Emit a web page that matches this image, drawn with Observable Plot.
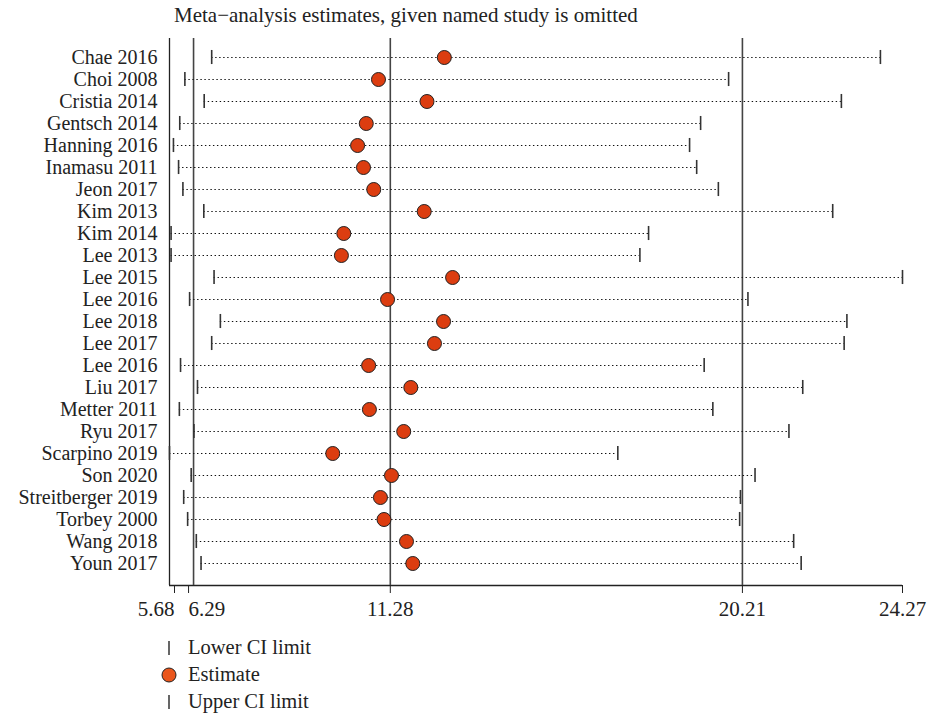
<!DOCTYPE html>
<html>
<head>
<meta charset="utf-8">
<script src="https://cdn.jsdelivr.net/npm/d3@7"></script>
<script src="https://cdn.jsdelivr.net/npm/@observablehq/plot@0.6"></script>
<style>
  html, body { margin: 0; padding: 0; background: #fff; }
  body { width: 929px; height: 716px; position: relative; font-family: "Liberation Serif", serif; color: #222; }
  #title { position: absolute; left: 174px; top: 3px; font-size: 21px; white-space: nowrap; }
  #chart { position: absolute; left: 0; top: 36px; }
  #legend { position: absolute; left: 160px; top: 634px; font-size: 20.5px; }
  .item { display: flex; align-items: center; height: 27px; }
  .item svg { width: 20px; height: 20px; margin-right: 8px; }
</style>
</head>
<body>
<div id="title">Meta−analysis estimates, given named study is omitted</div>
<div id="chart"></div>
<div id="legend">
  <div class="item"><svg viewBox="0 0 20 20"><line x1="9" x2="9" y1="3" y2="17" stroke="#333" stroke-width="1.5"/></svg><span>Lower CI limit</span></div>
  <div class="item"><svg viewBox="0 0 20 20"><circle cx="9" cy="10" r="7" fill="#ea561c" stroke="#222" stroke-width="1"/></svg><span>Estimate</span></div>
  <div class="item"><svg viewBox="0 0 20 20"><line x1="9" x2="9" y1="3" y2="17" stroke="#333" stroke-width="1.5"/></svg><span>Upper CI limit</span></div>
</div>
<script>
const studies = ["Chae 2016","Choi 2008","Cristia 2014","Gentsch 2014","Hanning 2016","Inamasu 2011","Jeon 2017","Kim 2013","Kim 2014","Lee 2013","Lee 2015","Lee 2016","Lee 2018","Lee 2017","Lee 2016","Liu 2017","Metter 2011","Ryu 2017","Scarpino 2019","Son 2020","Streitberger 2019","Torbey 2000","Wang 2018","Youn 2017"];
const lower    = [6.75, 6.07, 6.56, 5.94, 5.78, 5.91, 6.02, 6.55, 5.72, 5.72, 6.81, 6.19, 6.97, 6.75, 5.96, 6.39, 5.93, 6.30, 5.68, 6.23, 6.04, 6.14, 6.36, 6.48];
const estimate = [12.65, 10.98, 12.21, 10.67, 10.45, 10.60, 10.86, 12.14, 10.10, 10.04, 12.86, 11.21, 12.63, 12.40, 10.73, 11.80, 10.75, 11.62, 9.82, 11.31, 11.03, 11.12, 11.69, 11.85];
const upper    = [23.71, 19.86, 22.72, 19.15, 18.87, 19.05, 19.60, 22.50, 17.83, 17.61, 24.27, 20.35, 22.86, 22.79, 19.24, 21.74, 19.46, 21.39, 17.05, 20.53, 20.16, 20.14, 21.51, 21.70];
const refLines = [6.29, 11.28, 20.21];
const xMin = 5.68, xMax = 24.27;

const rows = studies.map((s, i) => ({i, study: s, lo: lower[i], est: estimate[i], hi: upper[i]}));

const chart = Plot.plot({
  width: 929,
  height: 590,
  marginLeft: 169,
  marginRight: 27,
  marginTop: 2,
  marginBottom: 41,
  style: {fontFamily: "Liberation Serif, serif", fontSize: "20px", color: "#222", background: "white"},
  x: {domain: [xMin, xMax], label: null},
  y: {domain: [-0.864, 24], reverse: true, label: null},
  marks: [
    Plot.ruleX([xMin], {stroke: "#222", strokeWidth: 1.3}),
    Plot.ruleY([24], {x1: xMin, x2: xMax, stroke: "#222", strokeWidth: 1.3}),
    Plot.ruleX(refLines, {stroke: "#444", strokeWidth: 1.6}),
    Plot.ruleY(rows, {y: "i", x1: "lo", x2: "hi", stroke: "#111", strokeWidth: 1.1, strokeDasharray: "1.4,2.6"}),
    Plot.ruleX(rows, {x: "lo", y1: d => d.i - 0.32, y2: d => d.i + 0.32, stroke: "#333", strokeWidth: 1.6}),
    Plot.ruleX(rows, {x: "hi", y1: d => d.i - 0.32, y2: d => d.i + 0.32, stroke: "#333", strokeWidth: 1.6}),
    Plot.dot(rows, {x: "est", y: "i", r: 7, fill: "#dc3d10", stroke: "#222", strokeWidth: 1}),
    Plot.axisY({ticks: d3.range(studies.length), tickFormat: i => studies[i], tickSize: 0, tickPadding: 12, fontSize: 20, fill: "#222", label: null}),
    Plot.axisX({ticks: [xMin], tickFormat: d => d.toFixed(2), tickSize: 8, tickPadding: 8, textAnchor: "end", dx: 5, fontSize: 21, stroke: "#222", fill: "#222", label: null}),
    Plot.axisX({ticks: [6.29], tickFormat: d => d.toFixed(2), tickSize: 8, tickPadding: 8, textAnchor: "start", dx: -5, fontSize: 21, stroke: "#222", fill: "#222", label: null}),
    Plot.axisX({ticks: [11.28, 20.21, 24.27], tickFormat: d => d.toFixed(2), tickSize: 8, tickPadding: 8, fontSize: 21, stroke: "#222", fill: "#222", label: null})
  ]
});
document.getElementById("chart").appendChild(chart);
</script>
</body>
</html>
